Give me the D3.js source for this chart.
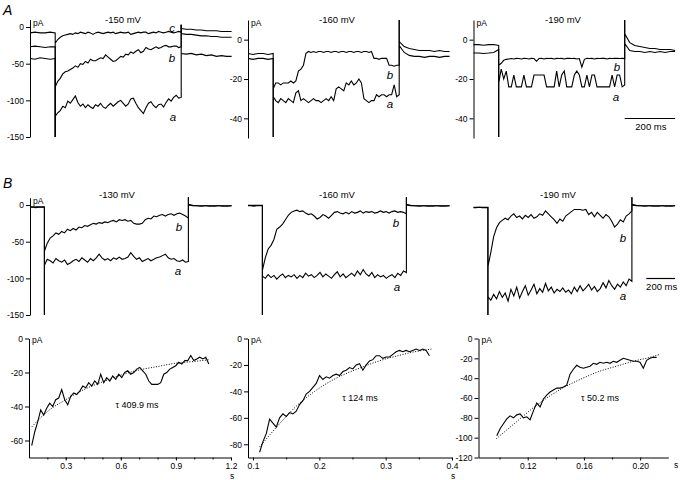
<!DOCTYPE html>
<html>
<head>
<meta charset="utf-8">
<script src="https://cdn.jsdelivr.net/npm/d3@7"></script>
<style>
  body { margin: 0; background: #fff; }
  text { font-family: "Liberation Sans", Arial, sans-serif; fill: #000; }
</style>
</head>
<body>
<script>
// step protocols (ms): record start, step on, step off, record end
const protA = [-100, 0, 500, 700];
const protB = [-100, 0, 1000, 1300];

// ---------- A, -150 mV : traces a, b, c (pA) ----------
const A150_a_pre = [-43, -44, -42, -43, -44, -43];
const A150_a_step = [-122, -117, -114, -108, -110, -101, -104, -99, -94, -103,
  -108, -105, -110, -106, -109, -111, -106, -108, -104, -109,
  -111, -107, -104, -108, -105, -102, -100, -104, -108, -105,
  -98, -97, -104, -110, -114, -118, -110, -104, -102, -107,
  -110, -106, -105, -109, -103, -98, -101, -96, -93, -97, -96];
const A150_a_post = [-36, -37, -36, -38, -37, -39, -38, -40, -39, -40, -40];
const A150_b_pre = [-27, -26, -27, -28, -27, -27];
const A150_b_step = [-82, -74, -70, -64, -61, -60, -58, -56, -53, -55,
  -50, -51, -47, -49, -44, -46, -46, -44, -42, -43,
  -38, -41, -44, -47, -46, -43, -40, -41, -37, -38,
  -34, -36, -33, -31, -35, -33, -28, -30, -31, -29,
  -27, -29, -28, -26, -25, -27, -27, -26, -26, -28, -27];
const A150_b_post = [-9, -10, -10, -11, -12, -12, -13, -13, -14, -14, -14];
const A150_c_pre = [-8, -7, -8, -8, -7, -8];
const A150_c_step = [-22, -17, -14, -12, -11, -10, -9, -10, -8, -9,
  -7, -8, -9, -7, -8, -10, -8, -7, -8, -9,
  -8, -7, -8, -7, -9, -8, -7, -8, -8, -7,
  -10, -9, -8, -7, -8, -7, -7, -9, -8, -7,
  -8, -6, -7, -8, -7, -6, -7, -8, -7, -6, -7];
const A150_c_post = [-2, -3, -3, -4, -4, -5, -5, -5, -6, -6, -6];
const A150_clip = [-150, 3];   // on-transient (clipped), off-transient peak

// ---------- A, -160 mV ----------
const A160_a_pre = [-9.5, -10, -9.5, -9.5, -10, -9.5];
const A160_a_step = [-29, -31, -32, -30, -31, -32, -30, -31, -32, -27,
  -26, -31, -30, -31, -32, -31, -30, -31, -31, -32,
  -31, -30, -31, -29, -31, -25, -24, -25, -26, -22,
  -23, -21, -23, -22, -20, -22, -30, -31, -32, -31,
  -31, -28, -29, -28, -28, -29, -28, -28, -23, -29, -28];
const A160_a_post = [-3, -6.5, -8, -8.5, -8.5, -9, -8.5, -8.5, -9, -8.5, -8.5];
const A160_b_pre = [-7, -7.5, -7, -7, -7.5, -7];
const A160_b_step = [-25, -22, -22, -23, -22, -22, -22, -21, -22, -21,
  -16, -15, -13, -7, -6, -6.5, -6, -6.5, -6, -6,
  -6.5, -6, -6, -6.5, -6, -6, -6.5, -6, -6, -6.5,
  -6, -6, -6.5, -6, -6, -6.5, -6, -6, -6.5, -6,
  -9.5, -9.5, -10, -9.5, -9.5, -9.5, -13, -13, -13.5, -13, -13];
const A160_b_post = [-1, -3.5, -4.5, -5, -5.5, -5.5, -5.5, -6, -5.5, -6, -6];
const A160_clip = [-49.5, 10];

// ---------- A, -190 mV ----------
const A190_a_pre = [-6.8, -6.8, -7, -6.8, -6.5, -5];
const A190_a_step = [-22, -15, -20, -16, -24, -24, -18, -24, -24, -24,
  -18, -24, -24, -24, -18, -18, -18, -18, -18, -24,
  -24, -24, -24, -16, -24, -18, -16, -24, -24, -24,
  -18, -16, -18, -24, -24, -18, -24, -18, -18, -24,
  -24, -24, -24, -24, -24, -18, -24, -18, -18, -24, -23];
const A190_a_post = [-2, -5.5, -6, -6, -6.5, -6, -6.5, -6, -6.5, -6, -6];
const A190_b_pre = [-2.5, -2.5, -2.8, -2.5, -2.5, -3];
const A190_b_step = [-13, -12, -10.5, -10, -9.8, -9.6, -9.8, -9.5, -9.6, -9.8,
  -9.5, -9.6, -9.8, -9.5, -9.6, -11, -9.6, -9.5, -9.8, -9.5,
  -9.6, -9.5, -9.8, -9.5, -9.6, -9.5, -9.8, -9.5, -9.5, -9.6,
  -9.5, -9.8, -9.6, -14, -10, -9.5, -9.6, -9.5, -9.8, -9.5,
  -9.6, -9.5, -9.5, -9.8, -9.5, -9.6, -9.5, -9.5, -9.6, -9.5, -9.6];
const A190_b_post = [3, -1.5, -3, -3.5, -4, -4.5, -4.5, -5, -5, -5, -5.5];
const A190_clip = [-49.5, 10];

// ---------- B, -130 mV ----------
const B130_a_pre = [-3, -3, -3.5, -3, -3, -3];
const B130_a_step = [-82, -74, -76, -79, -73, -76, -78, -75, -81, -79,
  -76, -74, -77, -72, -75, -78, -73, -76, -72, -67,
  -72, -75, -73, -76, -72, -74, -71, -74, -73, -71,
  -65, -70, -74, -72, -77, -75, -73, -76, -74, -72,
  -71, -69, -67, -72, -74, -73, -76, -77, -75, -78, -77];
const B130_a_post = [0, -1, -1, -1.5, -1, -1, -1.5, -1, -1, -1.5, -1];
const B130_b_pre = [-2.5, -2.5, -2.5, -2.5, -2.5, -2.5];
const B130_b_step = [-63, -52, -45, -42, -38, -40, -36, -38, -33, -35,
  -32, -34, -30, -31, -28, -29, -27, -25, -26, -24,
  -25, -23, -24, -22, -21, -23, -20, -21, -20, -22,
  -21, -25, -26, -26, -25, -20, -18, -19, -15, -16,
  -14, -13, -15, -13, -12, -14, -12, -11, -13, -15, -18];
const B130_b_post = [1, -0.5, -1, -1, -1, -1.5, -1, -1, -1.5, -1, -1];

// ---------- B, -160 mV ----------
const B160_a_pre = [-1, -1, -1.5, -1, -1, -1];
const B160_a_step = [-97, -100, -95, -99, -96, -101, -97, -94, -99, -96,
  -98, -95, -100, -96, -99, -93, -97, -95, -99, -96,
  -92, -98, -94, -97, -100, -95, -91, -98, -94, -99,
  -96, -93, -97, -90, -95, -88, -94, -97, -92, -99,
  -95, -98, -96, -100, -97, -95, -99, -93, -96, -90, -92];
const B160_a_post = [0, -1, -1, -1.5, -1, -1, -1.5, -1, -1, -1.5, -1];
const B160_b_pre = [-0.5, -0.5, -0.5, -0.5, -0.5, -0.5];
const B160_b_step = [-89, -72, -60, -55, -47, -33, -30, -26, -20, -14,
  -10, -8, -7, -9, -8, -11, -13, -12, -15, -19,
  -17, -13, -15, -18, -14, -10, -9, -11, -12, -10,
  -12, -9, -11, -10, -8, -11, -9, -10, -9, -11,
  -10, -8, -10, -9, -11, -9, -8, -10, -9, -10, -12];
const B160_b_post = [1, -0.5, -1, -1, -1, -1.5, -1, -1, -1.5, -1, -1];

// ---------- B, -190 mV ----------
const B190_a_pre = [-3.5, -3.5, -3, -3.5, -3.5, -3.5];
const B190_a_step = [-125, -130, -122, -128, -118, -126, -120, -131, -115, -124,
  -112, -127, -118, -110, -123, -116, -108, -121, -114, -119,
  -107, -117, -112, -120, -115, -118, -113, -119, -116, -121,
  -112, -118, -110, -117, -113, -108, -116, -111, -118, -114,
  -106, -113, -103, -110, -115, -108, -112, -105, -110, -101, -104];
const B190_a_post = [0, -1, -1, -1.5, -1, -1, -1.5, -1, -1, -1.5, -1];
const B190_b_pre = [-3, -3, -3, -3, -3, -3];
const B190_b_step = [-84, -65, -43, -31, -24, -21, -18, -20, -15, -12,
  -17, -15, -19, -14, -17, -13, -18, -16, -12, -14,
  -8, -12, -16, -20, -25, -19, -22, -15, -12, -9,
  -6, -6, -6, -7, -6, -13, -10, -16, -10, -14,
  -18, -13, -16, -22, -30, -26, -20, -23, -15, -12, -8];
const B190_b_post = [1, -0.5, -1, -1, -1, -1.5, -1, -1, -1.5, -1, -1];
const B_clip = [-150, 10.5];

// ---------- B, bottom row: trace b during the step and exponential fit (s, pA) ----------
const C130_span = [0.1147, 1.079];
const C130_i = [-63, -55, -49, -42, -45, -41, -38, -40, -36, -35,
  -30, -36, -39, -34, -32, -33, -31, -28, -29, -26,
  -28, -25, -27, -21, -26, -23, -25, -22, -24, -21,
  -23, -20, -19, -21, -20, -18, -17, -19, -21, -25,
  -27, -27, -27, -26, -21, -20, -18, -17, -16, -14,
  -15, -13, -13, -10, -13, -12, -11, -12, -11, -15];
const C130_fitT = [0.115, 0.2, 0.3, 0.4, 0.5, 0.6, 0.7, 0.8, 0.9, 1.0, 1.08];
const C130_fitI = [-52, -43, -36, -30, -25.5, -21.5, -18.5, -16.5, -14.5, -13.5, -12.5];

const C160_span = [0.110, 0.366];
const C160_i = [-86, -78, -72, -61, -64, -67, -60, -57, -59, -56,
  -57, -55, -50, -47, -42, -40, -37, -34, -28, -31,
  -29, -30, -28, -27, -28, -25, -24, -22, -23, -20,
  -19, -24, -20, -17, -16, -13, -13, -15, -14, -14,
  -12, -10, -9, -10, -9, -10, -9, -8, -9, -8, -9, -13];
const C160_fitT = [0.110, 0.1427, 0.1678, 0.193, 0.218, 0.243, 0.268, 0.293, 0.3186, 0.344, 0.369];
const C160_fitI = [-82, -63, -50, -40, -32, -26, -21, -16.5, -13, -10, -8];

const C190_span = [0.098, 0.2117];
const C190_i = [-98, -91, -86, -81, -78, -80, -77, -76, -80, -79,
  -82, -73, -65, -69, -61, -57, -54, -52, -50, -50,
  -49, -47, -36, -31, -27, -29, -30, -29, -28, -25,
  -26, -24, -25, -24, -25, -23, -24, -22, -20, -21,
  -22, -23, -23, -24, -30, -22, -20, -19, -19];
const C190_fitT = [0.0977, 0.112, 0.1238, 0.1357, 0.1475, 0.1593, 0.1712, 0.183, 0.1949, 0.2068, 0.2139];
const C190_fitI = [-101, -84, -70, -58, -48, -40, -33, -28, -23, -19, -16];

const tauLabels = ["\u03c4 409.9 ms", "\u03c4 124 ms", "\u03c4 50.2 ms"];

// ---------------------------------------------------------------
function seg(t0, t1, vals) {
  return vals.map((v, i) => [t0 + (t1 - t0) * i / (vals.length - 1), v]);
}
// one sweep: holding, clipped on-transient, step, off-transient, tail
function sweep(prot, pre, clip, step, post) {
  return [].concat(
    seg(prot[0], prot[1], pre), [[prot[1], clip[0]]],
    seg(prot[1], prot[2], step), [[prot[2], clip[1]]],
    seg(prot[2], prot[3], post));
}

const svg = d3.select("body").append("svg")
  .attr("width", 683).attr("height", 480);

const topPanels = [
  { x0: 30, prot: protA, yDom: [-150, 10], yRng: [137, 19.7], ticks: [0, -50, -100, -150],
    title: "-150 mV", tx: 123, ty: 22.5,
    traces: [sweep(protA, A150_a_pre, A150_clip, A150_a_step, A150_a_post),
             sweep(protA, A150_b_pre, A150_clip, A150_b_step, A150_b_post),
             sweep(protA, A150_c_pre, A150_clip, A150_c_step, A150_c_post)],
    labels: [["c", 172, 32], ["b", 172, 62], ["a", 173, 121]] },
  { x0: 248, prot: protA, yDom: [-50, 10], yRng: [138, 20], ticks: [0, -20, -40],
    title: "-160 mV", tx: 337, ty: 22.5,
    traces: [sweep(protA, A160_a_pre, A160_clip, A160_a_step, A160_a_post),
             sweep(protA, A160_b_pre, A160_clip, A160_b_step, A160_b_post)],
    labels: [["b", 390, 79], ["a", 390, 108]] },
  { x0: 473.5, prot: protA, yDom: [-50, 10], yRng: [138, 20], ticks: [0, -20, -40],
    title: "-190 mV", tx: 563, ty: 22.5,
    traces: [sweep(protA, A190_a_pre, A190_clip, A190_a_step, A190_a_post),
             sweep(protA, A190_b_pre, A190_clip, A190_b_step, A190_b_post)],
    labels: [["b", 617, 71], ["a", 616, 101]], bar: [500, 700] },
  { x0: 30, prot: protB, yDom: [-150, 10], yRng: [315, 197.7], ticks: [0, -50, -100, -150],
    title: "-130 mV", tx: 117, ty: 198,
    traces: [sweep(protB, B130_a_pre, B_clip, B130_a_step, B130_a_post),
             sweep(protB, B130_b_pre, B_clip, B130_b_step, B130_b_post)],
    labels: [["b", 179, 231], ["a", 178, 275]] },
  { x0: 248, prot: protB, yDom: [-150, 10], yRng: [315, 197.7], noAxis: true,
    title: "-160 mV", tx: 337, ty: 198,
    traces: [sweep(protB, B160_a_pre, B_clip, B160_a_step, B160_a_post),
             sweep(protB, B160_b_pre, B_clip, B160_b_step, B160_b_post)],
    labels: [["b", 396, 227], ["a", 397, 291]] },
  { x0: 473.5, prot: protB, yDom: [-150, 10], yRng: [315, 197.7], noAxis: true,
    title: "-190 mV", tx: 558, ty: 198,
    traces: [sweep(protB, B190_a_pre, B_clip, B190_a_step, B190_a_post),
             sweep(protB, B190_b_pre, B_clip, B190_b_step, B190_b_post)],
    labels: [["b", 623, 242], ["a", 623, 300]], bar: [1100, 1300] }
];

const colW = 201.6;

topPanels.forEach(p => {
  const x = d3.scaleLinear().domain([p.prot[0], p.prot[3]]).range([p.x0, p.x0 + colW]);
  const y = d3.scaleLinear().domain(p.yDom).range(p.yRng);
  const g = svg.append("g");

  if (!p.noAxis) {
    const ax = g.append("g")
      .attr("transform", `translate(${p.x0},0)`)
      .call(d3.axisLeft(y).tickValues(p.ticks).tickSize(4).tickSizeOuter(0)
        .tickPadding(2).tickFormat(d => String(d)));
    ax.attr("font-size", 8.5);
    ax.selectAll("path, line").attr("stroke", "#000");
    g.append("text").attr("x", p.x0 + 3).attr("y", y(10) + 6)
      .attr("font-size", 8.5).text("pA");
  }

  const line = d3.line().x(d => x(d[0])).y(d => y(d[1]));
  p.traces.forEach(tr => {
    g.append("path").attr("d", line(tr))
      .attr("fill", "none").attr("stroke", "#000").attr("stroke-width", 1.1);
  });

  g.append("text").attr("x", p.tx).attr("y", p.ty).attr("text-anchor", "middle")
    .attr("font-size", 9.5).text(p.title);

  p.labels.forEach(l => {
    g.append("text").attr("x", l[1]).attr("y", l[2]).attr("text-anchor", "middle")
      .attr("font-size", 11.5).attr("font-style", "italic").text(l[0]);
  });

  if (p.bar) {
    const by = p.prot === protA ? 118.5 : 278.5;
    g.append("line").attr("x1", x(p.bar[0])).attr("x2", x(p.bar[1]))
      .attr("y1", by).attr("y2", by).attr("stroke", "#000").attr("stroke-width", 1.2);
    g.append("text").attr("x", (x(p.bar[0]) + x(p.bar[1])) / 2 + 1).attr("y", by + 11)
      .attr("text-anchor", "middle").attr("font-size", 9.5).text("200 ms");
  }
});

// panel letters
svg.append("text").attr("x", 3).attr("y", 15).attr("font-size", 14)
  .attr("font-style", "italic").text("A");
svg.append("text").attr("x", 3).attr("y", 188).attr("font-size", 14)
  .attr("font-style", "italic").text("B");

// ---------- bottom row: time-course fits ----------
const fitPanels = [
  { x0: 29, x1: 231, xDom: [0.1, 1.2], yDom: [-70, 0], yTicks: [0, -20, -40, -60],
    xTicks: [0.3, 0.6, 0.9, 1.2], xMinor: d3.range(0.2, 1.15, 0.1), fmt: ".1f", sBelow: true,
    span: C130_span, vals: C130_i, fitT: C130_fitT, fitI: C130_fitI, tau: tauLabels[0], lx: 137, ly: 408 },
  { x0: 248, x1: 452, xDom: [0.0925, 0.4], yDom: [-90, 0], yTicks: [0, -20, -40, -60, -80],
    xTicks: [0.1, 0.2, 0.3, 0.4], xMinor: [0.15, 0.25, 0.35], fmt: ".1f", sBelow: true,
    span: C160_span, vals: C160_i, fitT: C160_fitT, fitI: C160_fitI, tau: tauLabels[1], lx: 360, ly: 401 },
  { x0: 478.5, x1: 668.3, xDom: [0.085, 0.22], yDom: [-120, 0], yTicks: [0, -20, -40, -60, -80, -100, -120],
    xTicks: [0.12, 0.16, 0.20], xMinor: [0.1, 0.14, 0.18], fmt: ".2f", sBelow: false,
    span: C190_span, vals: C190_i, fitT: C190_fitT, fitI: C190_fitI, tau: tauLabels[2], lx: 600, ly: 401 }
];

const yTop = 338.5, yBot = 457.5;

fitPanels.forEach(p => {
  const x = d3.scaleLinear().domain(p.xDom).range([p.x0, p.x1]);
  const y = d3.scaleLinear().domain(p.yDom).range([yBot, yTop]);
  const g = svg.append("g");

  const ay = g.append("g").attr("transform", `translate(${p.x0},0)`)
    .call(d3.axisLeft(y).tickValues(p.yTicks).tickSize(4).tickSizeOuter(0)
      .tickPadding(2).tickFormat(d => String(d)));
  ay.attr("font-size", 8.5);

  const ax = g.append("g").attr("transform", `translate(0,${yBot})`)
    .call(d3.axisBottom(x).tickValues(p.xTicks).tickSize(3).tickSizeOuter(0)
      .tickPadding(2).tickFormat(d3.format(p.fmt)));
  ax.attr("font-size", 8.5);
  g.append("g").attr("transform", `translate(0,${yBot})`)
    .call(d3.axisBottom(x).tickValues(p.xMinor).tickSize(2).tickFormat(""))
    .select(".domain").remove();
  g.selectAll("path, line").attr("stroke", "#000");

  if (p.sBelow) {
    g.append("text").attr("x", x(p.xTicks[p.xTicks.length - 1]) + 1).attr("y", 478.5)
      .attr("text-anchor", "middle").attr("font-size", 8.5).text("s");
  } else {
    g.append("text").attr("x", 676).attr("y", 468)
      .attr("text-anchor", "middle").attr("font-size", 8.5).text("s");
  }

  g.append("text").attr("x", p.x0 + 3).attr("y", yTop + 4.5)
    .attr("font-size", 8.5).text("pA");

  const pts = seg(p.span[0], p.span[1], p.vals);
  const line = d3.line().x(d => x(d[0])).y(d => y(d[1]));
  g.append("path").attr("d", line(pts))
    .attr("fill", "none").attr("stroke", "#000").attr("stroke-width", 1.1);

  const fit = p.fitT.map((t, i) => [t, p.fitI[i]]);
  g.append("path").attr("d", line.curve(d3.curveMonotoneX)(fit))
    .attr("fill", "none").attr("stroke", "#000").attr("stroke-width", 1)
    .attr("stroke-dasharray", "1 1.6");

  g.append("text").attr("x", p.lx).attr("y", p.ly).attr("text-anchor", "middle")
    .attr("font-size", 9).text(p.tau);
});
</script>
</body>
</html>
